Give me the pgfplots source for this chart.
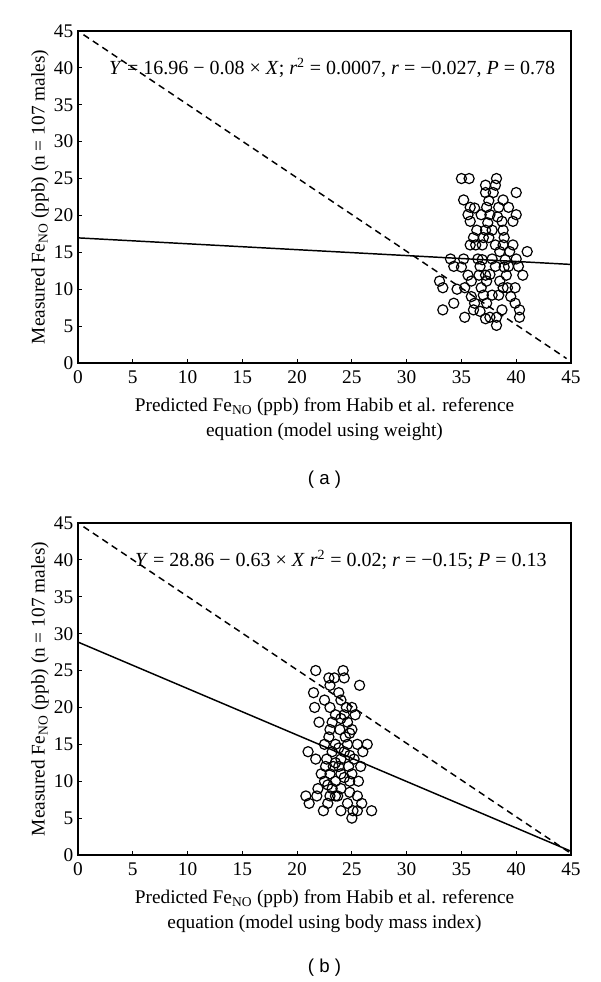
\documentclass[border=0pt]{standalone}
\usepackage{fontspec}
\setmainfont{Liberation Serif}
\newfontfamily\capfont{Liberation Sans}
\usepackage{pgfplots}
\pgfplotsset{compat=1.18}
\pgfplotstableread{
x y
35.0 25
35.7 25
38.2 25
37.2 24.1
38.1 24.1
37.2 23.1
37.9 23.1
40.0 23.1
35.2 22.1
38.8 22.1
35.8 21.1
37.3 21.1
38.4 21.1
39.3 21.1
35.6 20.1
36.8 20.1
37.6 20.1
40.0 20.1
35.8 19.2
38.7 19.2
39.7 19.2
37.2 18.0
37.8 18.0
38.8 18.0
36.1 17.0
37.0 17.0
37.5 17.0
35.8 16.0
36.9 16.0
38.1 16.0
38.8 16.0
39.7 16.0
38.5 15.1
39.4 15.1
41.0 15.1
34.0 14.1
35.2 14.1
36.5 14.1
37.8 14.1
40.0 14.1
34.3 13.1
36.7 13.1
38.1 13.1
39.3 13.1
40.2 13.1
40.6 11.9
39.1 11.9
37.2 11.9
36.6 11.9
35.6 11.9
33.0 11.1
35.9 11.1
37.3 11.1
38.5 11.1
33.3 10.2
35.3 10.2
36.8 10.2
38.8 10.2
39.9 10.2
39.2 10.2
37.0 9.2
37.8 9.2
38.4 9.2
34.3 8.1
36.2 8.1
37.3 8.1
39.9 8.1
33.3 7.2
36.1 7.2
38.7 7.2
40.3 7.2
35.3 6.2
37.6 6.2
38.2 6.2
40.3 6.2
38.2 5.1
37.4 19.0
36.4 18.0
38.9 17.0
36.9 14.0
39.0 14.0
37.6 12.0
35.0 13.0
38.3 19.8
36.2 21.0
37.5 22.0
34.6 10.0
39.5 9.0
36.7 7.0
37.2 6.0
35.9 9.0
38.9 13.0
36.3 16.0
}\dataA
\pgfplotstableread{
x y
21.7 25
24.2 25
22.9 24
23.4 24
24.3 24
23.0 23
25.7 23
21.5 22
23.8 22
22.5 21
24.0 21
21.6 20
23.0 20
24.5 20
25.0 20
23.5 19
24.3 19
25.3 19
22.0 18
23.2 18
24.6 18
23.9 17
25.0 17
22.9 16
24.4 16
23.5 15
24.6 15
25.5 15
26.4 15
21.0 14
23.2 14
24.3 14
26.0 14
21.7 13
22.7 13
24.0 13
25.2 13
22.6 12
23.3 12
23.8 12
24.7 12
25.8 12
22.2 11
23.0 11
24.0 11
25.0 11
22.5 10
23.5 10
24.8 10
25.6 10
21.9 9
23.2 9
24.0 9
20.8 8
21.8 8
23.0 8
23.5 8
23.7 8
25.5 8
21.1 7
22.8 7
24.6 7
25.9 7
22.4 6
24.0 6
25.1 6
25.5 6
26.8 6
25.0 5
24.0 18.5
23.0 17
24.8 16.5
22.5 15
23.8 14.5
24.8 13.5
23.5 12.5
24.3 10.5
22.8 9.5
24.8 8.5
}\dataB
\pgfplotsset{
  myax/.style={
    width=369.75pt, height=249pt, scale only axis,
    xmin=0, xmax=45, ymin=0, ymax=45,
    xtick={0,5,...,45}, ytick={0,5,...,45},
    tick align=inside, xtick pos=bottom, ytick pos=left,
    major tick length=3pt,
    axis line style={line width=1.1pt},
    every tick/.style={line width=0.8pt, black},
    /pgf/number format/assume math mode=true,
    tick label style={font=\fontsize{14.5}{16}\selectfont},
    xticklabel style={yshift=-2pt},
    label style={font=\fontsize{14.5}{19}\selectfont},
    ylabel={Measured Fe\textsubscript{NO} (ppb) (n = 107 males)},
    ylabel style={yshift=-3pt},
    xlabel style={align=center, yshift=-4pt},
    clip=false,
  },
}
\begin{document}
\begin{tikzpicture}
\useasboundingbox (-58.5pt,-95.25pt) rectangle (391.5pt,641.25pt);
\begin{axis}[myax, at={(0,369pt)}, anchor=south west,
  xlabel={Predicted Fe\textsubscript{NO} (ppb) from Habib et al. reference\\equation (model using weight)}]
\addplot[only marks, mark=o, mark size=3.8pt, mark options={line width=0.9pt, fill=white, draw=black}] table[x=x,y=y] {\dataA};
\addplot[black, line width=1.1pt] coordinates {(0,16.96) (45,13.36)};
\addplot[black, line width=1.1pt, dash pattern=on 5pt off 3.5pt] coordinates {(0.5,44.5) (44.6,0.6)};
\node[font=\fontsize{15}{17}\selectfont] at (axis cs:23.2,40) {\textit{Y} = 16.96 − 0.08 × \textit{X}; \textit{r}\textsuperscript{2} = 0.0007, \textit{r} = −0.027, \textit{P} = 0.78};
\node[font=\capfont\fontsize{14}{16}\selectfont] at (rel axis cs:0.5,-0.35) {( a )};
\end{axis}
\begin{axis}[myax, at={(0,0)}, anchor=south west,
  xlabel={Predicted Fe\textsubscript{NO} (ppb) from Habib et al. reference\\equation (model using body mass index)}]
\addplot[only marks, mark=o, mark size=3.8pt, mark options={line width=0.9pt, fill=white, draw=black}] table[x=x,y=y] {\dataB};
\addplot[black, line width=1.1pt] coordinates {(0,28.86) (45,0.51)};
\addplot[black, line width=1.1pt, dash pattern=on 5pt off 3.5pt] coordinates {(0.5,44.5) (44.8,0.4)};
\node[font=\fontsize{15}{17}\selectfont] at (axis cs:24.0,40) {\textit{Y} = 28.86 − 0.63 × \textit{X} \textit{r}\textsuperscript{2} = 0.02; \textit{r} = −0.15; \textit{P} = 0.13};
\node[font=\capfont\fontsize{14}{16}\selectfont] at (rel axis cs:0.5,-0.34) {( b )};
\end{axis}
\end{tikzpicture}
\end{document}
